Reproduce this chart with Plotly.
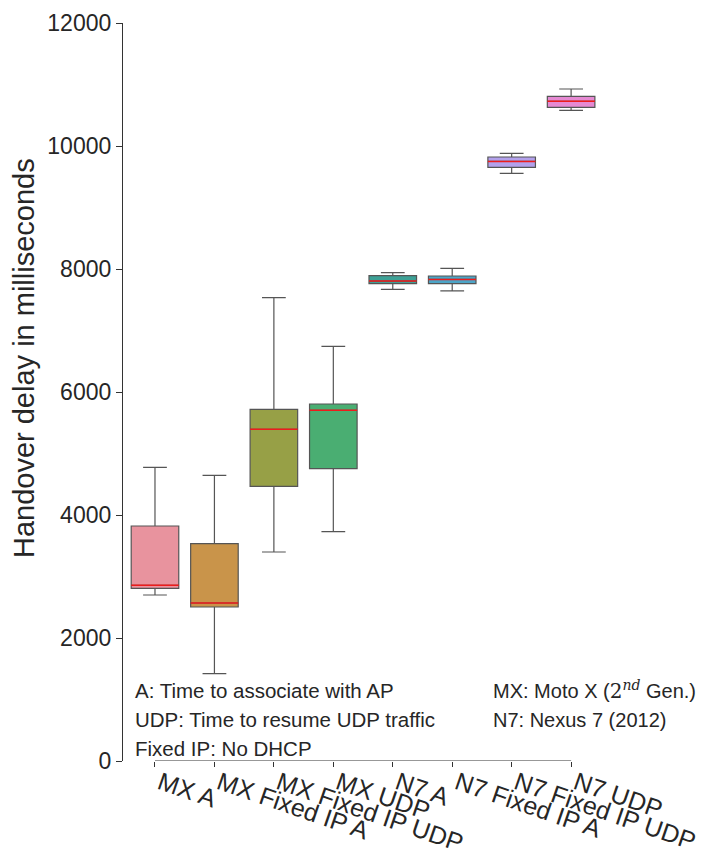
import plotly.graph_objects as go

categories = ["MX A", "MX Fixed IP A", "MX Fixed IP UDP", "MX UDP",
              "N7 A", "N7 Fixed IP A", "N7 Fixed IP UDP", "N7 UDP"]
lower_whisker = [2699, 1420, 3398, 3729, 7669, 7645, 9555, 10580]
q1_values = [2808, 2504, 4466, 4753, 7763, 7761, 9653, 10629]
median_values = [2857, 2569, 5393, 5702, 7803, 7830, 9750, 10726]
q3_values = [3821, 3534, 5718, 5805, 7891, 7886, 9821, 10807]
upper_whisker = [4776, 4645, 7534, 6743, 7941, 8009, 9880, 10927]
box_colors = ["#e8939e", "#c9944a", "#97a046", "#4aae72",
              "#3da196", "#4ca5c7", "#b3a1ec", "#e68ad3"]
y_ticks = [0, 2000, 4000, 6000, 8000, 10000, 12000]

FONT = "Liberation Sans, Arial, Helvetica, sans-serif"
TXT = "#262626"
BOX_W = 0.8

fig = go.Figure()
for i, cat in enumerate(categories):
    fig.add_trace(go.Box(
        x=[i], q1=[q1_values[i]], median=[median_values[i]], q3=[q3_values[i]],
        lowerfence=[lower_whisker[i]], upperfence=[upper_whisker[i]],
        name=cat, width=BOX_W, whiskerwidth=0.5,
        fillcolor=box_colors[i], line=dict(color="#555555", width=1.2),
        showlegend=False, boxpoints=False,
    ))

# red median lines
mx, my = [], []
for i, m in enumerate(median_values):
    mx += [i - BOX_W / 2, i + BOX_W / 2, None]
    my += [m, m, None]
fig.add_trace(go.Scatter(x=mx, y=my, mode="lines",
                         line=dict(color="#ee1c1c", width=1.5),
                         showlegend=False, hoverinfo="skip"))

# trimmed x axis spine
fig.add_shape(type="line", xref="x", yref="y", x0=0, x1=len(categories) - 1,
              y0=0, y1=0, line=dict(color="#333333", width=1.25))

fig.update_layout(
    width=702, height=852,
    margin=dict(l=123, r=12, t=23, b=91, autoexpand=False),
    paper_bgcolor="white", plot_bgcolor="white",
    font=dict(family=FONT, color=TXT),
    xaxis=dict(range=[-0.538, 9.0], tickvals=list(range(len(categories))),
               ticktext=categories, tickangle=19, ticks="outside", ticklen=5,
               tickcolor="#333333", tickwidth=1.2, showline=False,
               showgrid=False, zeroline=False, automargin=False,
               ticklabelstandoff=-8, ticklabelshift=5,
               tickfont=dict(size=25, family=FONT, color=TXT)),
    yaxis=dict(range=[0, 12000], tickvals=y_ticks, tickformat="d",
               ticks="outside", ticklen=6,
               tickcolor="#333333", tickwidth=1.2, showline=True,
               linecolor="#333333", linewidth=1.25, showgrid=False,
               zeroline=False, automargin=False,
               tickfont=dict(size=23, family=FONT, color=TXT)),
)

fig.add_annotation(text="Handover delay in milliseconds", textangle=-90,
                   xref="paper", yref="paper", x=-0.1746, y=0.546,
                   xanchor="center", yanchor="middle",
                   showarrow=False, font=dict(size=29, family=FONT, color=TXT))

notes_left = ["A: Time to associate with AP", "UDP: Time to resume UDP traffic",
              "Fixed IP: No DHCP"]
notes_right = ["MX: Moto X (<span style=\"font-family:'DejaVu Serif'\">2<sup><i>nd</i></sup></span> Gen.)",
               "N7: Nexus 7 (2012)"]
ys = [0.0962, 0.0556, 0.0176]
for t, yy in zip(notes_left, ys):
    fig.add_annotation(text=t, xref="paper", yref="paper", x=0.0176, y=yy,
                       xanchor="left", yanchor="middle", showarrow=False,
                       font=dict(size=20.5, family=FONT, color=TXT))
for t, yy in zip(notes_right, ys):
    fig.add_annotation(text=t, xref="paper", yref="paper", x=0.649, y=yy,
                       xanchor="left", yanchor="middle", showarrow=False,
                       font=dict(size=20, family=FONT, color=TXT))

fig.write_html("out.html", config={"displayModeBar": False},
               post_script="document.body.style.margin='0';document.body.style.overflow='hidden';")
